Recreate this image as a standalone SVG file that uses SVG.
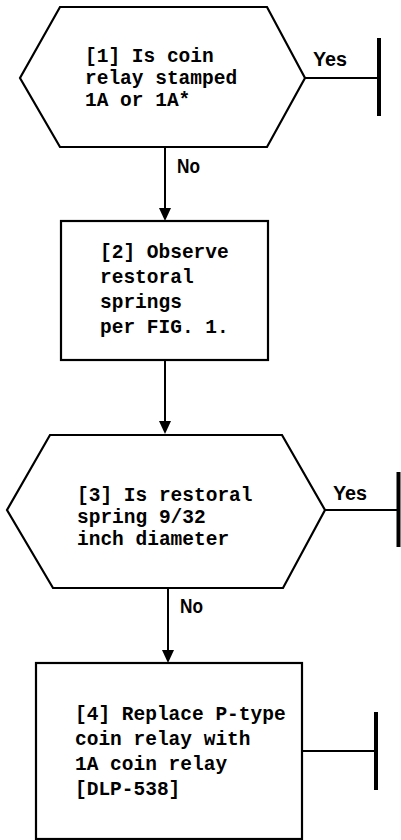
<svg xmlns="http://www.w3.org/2000/svg" width="401" height="840" viewBox="0 0 401 840">
<defs>
<style>
.shape{fill:#fff;stroke:#000;stroke-width:2.2}
.line{stroke:#000;stroke-width:2;fill:none}
.bar{stroke:#000;stroke-width:4;fill:none}
.t{font-family:"Liberation Mono",monospace;font-size:20.5px;font-weight:bold;fill:#000}
.th{font-family:"Liberation Mono",monospace;font-size:19.4px;font-weight:bold;fill:#000}
.lbl{font-family:"Liberation Sans",Arial,sans-serif;font-size:20px;font-weight:bold;fill:#000}
.head{fill:#000}
</style>
</defs>
<rect width="401" height="840" fill="#fff"/>
<g id="connectors">
<line class="line" x1="165" y1="147" x2="165" y2="210"/>
<path class="head" d="M159,208 L171,208 L165,221 Z"/>
<line class="line" x1="165" y1="360" x2="165" y2="423"/>
<path class="head" d="M159,421 L171,421 L165,434 Z"/>
<line class="line" x1="168" y1="588" x2="168" y2="652"/>
<path class="head" d="M162,650 L174,650 L168,663 Z"/>
<line class="line" x1="305" y1="78" x2="379" y2="78"/>
<line class="bar" x1="379" y1="38" x2="379" y2="116"/>
<text class="lbl" x="313" y="66" textLength="34" lengthAdjust="spacingAndGlyphs">Yes</text>
<text class="lbl" x="177" y="173" textLength="23" lengthAdjust="spacingAndGlyphs">No</text>
<line class="line" x1="325" y1="510" x2="399" y2="510"/>
<line class="bar" x1="398.5" y1="472" x2="398.5" y2="547"/>
<text class="lbl" x="333" y="500" textLength="34" lengthAdjust="spacingAndGlyphs">Yes</text>
<text class="lbl" x="180" y="613" textLength="23" lengthAdjust="spacingAndGlyphs">No</text>
<line class="line" x1="302" y1="751" x2="376" y2="751"/>
<line class="bar" x1="376" y1="712" x2="376" y2="790"/>
</g>
<g id="node1">
<polygon class="shape" points="60,7 267,7 305,78 267,147 60,147 20,78"/>
<text class="th" x="85" y="62" textLength="128.7" lengthAdjust="spacingAndGlyphs">[1] Is coin</text>
<text class="th" x="85" y="84" textLength="152.1" lengthAdjust="spacingAndGlyphs">relay stamped</text>
<text class="th" x="85" y="106" textLength="105.3" lengthAdjust="spacingAndGlyphs">1A or 1A*</text>
</g>
<g id="node2">
<rect class="shape" x="61" y="221" width="207" height="139"/>
<text class="t" x="100" y="258" textLength="128.7" lengthAdjust="spacingAndGlyphs">[2] Observe</text>
<text class="t" x="100" y="283" textLength="93.6" lengthAdjust="spacingAndGlyphs">restoral</text>
<text class="t" x="100" y="308" textLength="81.9" lengthAdjust="spacingAndGlyphs">springs</text>
<text class="t" x="100" y="333" textLength="128.7" lengthAdjust="spacingAndGlyphs">per FIG. 1.</text>
</g>
<g id="node3">
<polygon class="shape" points="50,435 282,435 325,510 283,588 53,588 7,510"/>
<text class="th" x="77" y="501" textLength="175.5" lengthAdjust="spacingAndGlyphs">[3] Is restoral</text>
<text class="th" x="77" y="523" textLength="128.7" lengthAdjust="spacingAndGlyphs">spring 9/32</text>
<text class="th" x="77" y="545" textLength="152.1" lengthAdjust="spacingAndGlyphs">inch diameter</text>
</g>
<g id="node4">
<rect class="shape" x="36" y="663" width="266" height="176"/>
<text class="t" x="75" y="720" textLength="210.6" lengthAdjust="spacingAndGlyphs">[4] Replace P-type</text>
<text class="t" x="75" y="745" textLength="175.5" lengthAdjust="spacingAndGlyphs">coin relay with</text>
<text class="t" x="75" y="770" textLength="152.1" lengthAdjust="spacingAndGlyphs">1A coin relay</text>
<text class="t" x="75" y="795" textLength="105.3" lengthAdjust="spacingAndGlyphs">[DLP-538]</text>
</g>
</svg>
